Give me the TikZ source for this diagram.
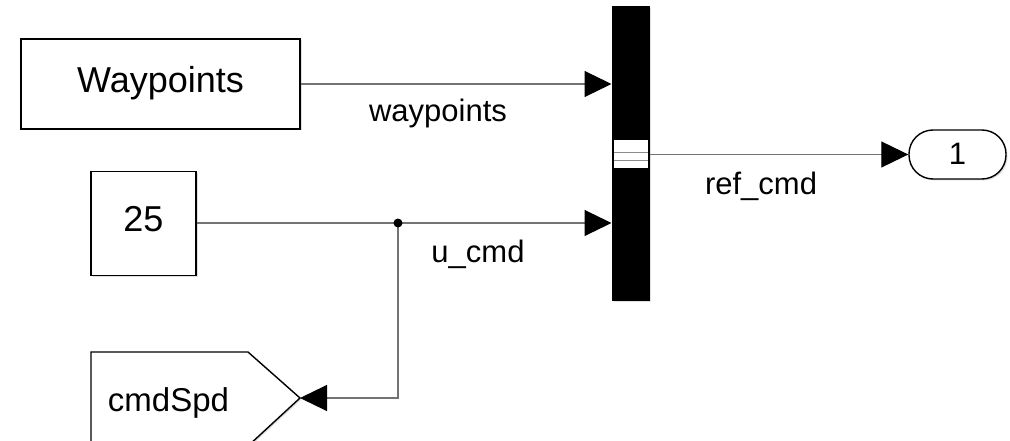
\documentclass[tikz,border=0pt]{standalone}
\usepackage{fontspec}
\setmainfont{Liberation Sans}
\usetikzlibrary{arrows.meta,shadows}
\tikzset{
  blk/.style={draw=black, line width=1.4pt, fill=white, inner sep=0pt,
    drop shadow={shadow xshift=1.5pt, shadow yshift=-1.5pt, opacity=0.25},
    font=\fontsize{36}{42}\selectfont, text height=24pt, text depth=7pt},
  wire/.style={draw=black!55, line width=1.1pt},
  tip/.style={-{Triangle[length=27pt,width=26pt,fill=black,color=black]}},
  lbl/.style={font=\fontsize{31}{36}\selectfont, anchor=base, inner sep=0pt},
}
\begin{document}
\begin{tikzpicture}[x=1pt,y=-1pt]
\useasboundingbox (0,0) rectangle (1010,441);
\clip (0,0) rectangle (1010,441);
\fill[white] (0,0) rectangle (1010,441);

% blocks
\node[blk, minimum width=279pt, minimum height=90pt] (wp) at (160.5,84) {Waypoints};
\node[blk, minimum width=105pt, minimum height=104pt] (c25) at (143.5,223.5) {25};
\node[draw=black, fill=black, line width=1pt, minimum width=37pt, minimum height=293pt, inner sep=0pt,
  drop shadow={shadow xshift=1.5pt, shadow yshift=-1.5pt, opacity=0.25}] (bus) at (630.5,153.5) {};
\fill[white] (614,140) rectangle (648,168);
\draw[black!45, line width=0.8pt] (614,152) -- (648,152) (614,160) -- (648,160);
\node[blk, rounded corners=24pt, minimum width=97pt, minimum height=49pt,
  font=\fontsize{31}{36}\selectfont, text height=20pt, text depth=0pt] (out) at (957.5,154.5) {1};

% goto block
\fill[black!25, opacity=0.5] (92.5,447) -- (92.5,353.5) -- (249.5,353.5) -- (301.5,399.5) -- (249.5,447) -- cycle;
\filldraw[fill=white, draw=black, line width=1.4pt] (91,446) -- (91,352) -- (248,352) -- (300,398) -- (248,446) -- cycle;
\node[lbl, font=\fontsize{33}{38}\selectfont] (goto) at (168.5,411) {cmdSpd};
\coordinate (gototip) at (300,398);

% connectors
\coordinate (j) at (398,223);
\draw[wire, tip] (wp.east |- 0,84) -- (bus.west |- 0,84);
\draw[wire, tip] (c25.east |- j) -- (bus.west |- j);
\draw[wire, tip] (j) |- (gototip);
\draw[wire, tip] (bus.east |- 0,154.5) -- (out.west);
\fill[black] (j) circle (4.5pt);

% labels
\node[lbl] (lwp) at (438,122) {waypoints};
\node[lbl] (lu) at (478,262) {u\_cmd};
\node[lbl] (lref) at (761,195) {ref\_cmd};
\end{tikzpicture}
\end{document}
